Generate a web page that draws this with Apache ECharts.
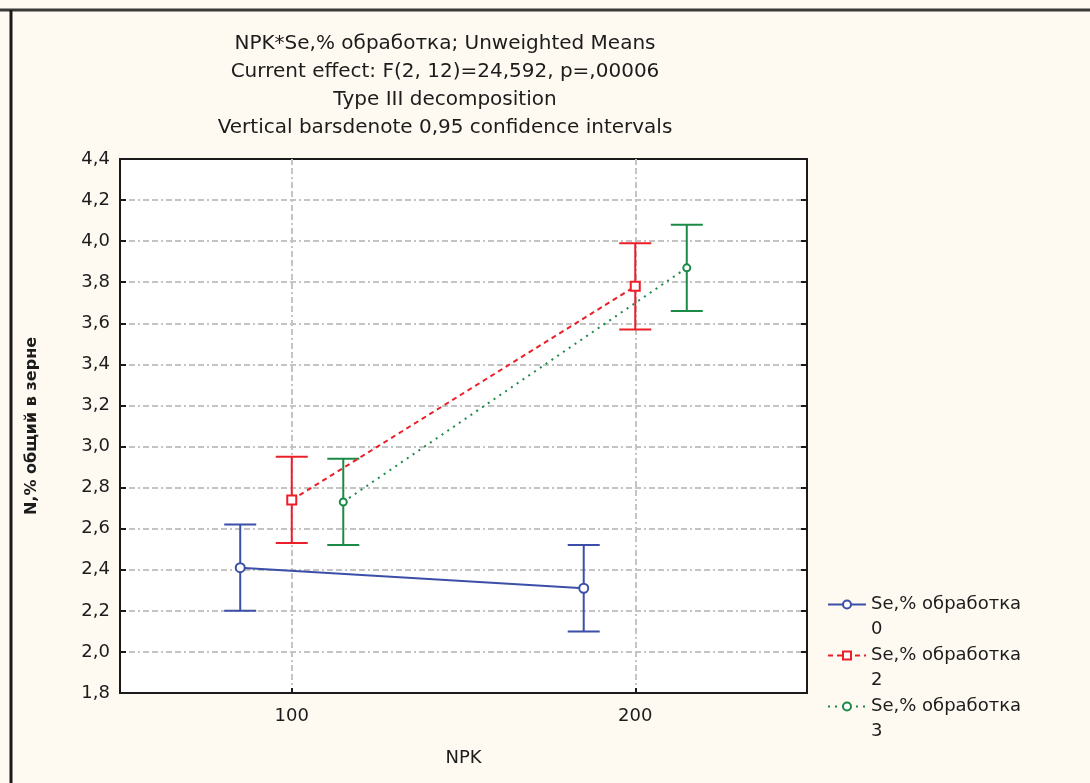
<!DOCTYPE html>
<html>
<head>
<meta charset="utf-8">
<script src="https://cdn.jsdelivr.net/npm/echarts@6/dist/echarts.min.js"></script>
<style>
  html, body { margin: 0; padding: 0; background: #fef9f1; }
  #chart { width: 1090px; height: 783px; }
</style>
</head>
<body>
<div id="chart"></div>
<script>
// NPK levels on the x axis
const npkLevels = [100, 200];
// Se treatment groups
const seGroups = ['0', '2', '3'];
// Unweighted means of total N, % in grain, per Se group at each NPK level
const meanSe0 = [2.41, 2.31];
const meanSe2 = [2.74, 3.78];
const meanSe3 = [2.73, 3.87];
// 0.95 confidence limits
const lowSe0 = [2.20, 2.10];
const highSe0 = [2.62, 2.52];
const lowSe2 = [2.53, 3.57];
const highSe2 = [2.95, 3.99];
const lowSe3 = [2.52, 3.66];
const highSe3 = [2.94, 4.08];
// y axis ticks
const yMin = 1.8, yMax = 4.4, yStep = 0.2;

const titleLines = [
  'NPK*Se,% обработка; Unweighted Means',
  'Current effect: F(2, 12)=24,592, p=,00006',
  'Type III decomposition',
  'Vertical barsdenote 0,95 confidence intervals'
];

const FONT = 'DejaVu Sans';
const TEXT = '#1c1c1c';
const colors = ['#3b4fa8', '#ec1f28', '#1b8a46'];
const lineTypes = ['solid', [5, 4], [2, 5]];
const symbols = ['circle', 'rect', 'circle'];
const symbolSizes = [9, 9, 7];
// horizontal dodge of each group around its NPK level
const dodge = [-15, 0, 15];

const means = [meanSe0, meanSe2, meanSe3];
const lows = [lowSe0, lowSe2, lowSe3];
const highs = [highSe0, highSe2, highSe3];

const seriesName = g => 'Se,% обработка ' + g;

const series = [];
seGroups.forEach((g, i) => {
  series.push({
    name: seriesName(g),
    type: 'line',
    data: npkLevels.map((x, k) => [x + dodge[i], means[i][k]]),
    symbol: symbols[i],
    symbolSize: symbolSizes[i],
    showAllSymbol: true,
    lineStyle: { color: colors[i], width: 2, type: lineTypes[i] },
    itemStyle: { color: '#ffffff', borderColor: colors[i], borderWidth: 2 },
    z: 5
  });
  series.push({
    name: seriesName(g),
    type: 'custom',
    data: npkLevels.map((x, k) => [x + dodge[i], lows[i][k], highs[i][k]]),
    encode: { x: 0, y: [1, 2] },
    renderItem: (params, api) => {
      const lo = api.coord([api.value(0), api.value(1)]);
      const hi = api.coord([api.value(0), api.value(2)]);
      const cap = 16;
      const style = { stroke: colors[i], lineWidth: 2, fill: null };
      return {
        type: 'group',
        children: [
          { type: 'line', shape: { x1: lo[0], y1: lo[1], x2: hi[0], y2: hi[1] }, style },
          { type: 'line', shape: { x1: lo[0] - cap, y1: lo[1], x2: lo[0] + cap, y2: lo[1] }, style },
          { type: 'line', shape: { x1: hi[0] - cap, y1: hi[1], x2: hi[0] + cap, y2: hi[1] }, style }
        ]
      };
    },
    z: 4
  });
});

const dashDot = { color: '#c4c4c4', width: 2, type: [6, 3, 6, 3, 2, 3] };
const fmtComma = v => v.toFixed(1).replace('.', ',');

const chart = echarts.init(document.getElementById('chart'));
chart.setOption({
  backgroundColor: '#fef9f1',
  animation: false,
  title: {
    text: titleLines.join('\n'),
    left: 440,
    textAlign: 'center',
    top: 25,
    textStyle: { fontFamily: FONT, fontSize: 20, fontWeight: 'normal', color: TEXT, lineHeight: 28 }
  },
  graphic: [
    { type: 'line', shape: { x1: 0, y1: 10, x2: 1090, y2: 10 }, style: { stroke: '#3a3a3a', lineWidth: 3 } },
    { type: 'line', shape: { x1: 11, y1: 10, x2: 11, y2: 783 }, style: { stroke: '#1a1a1a', lineWidth: 3 } }
  ],
  grid: { left: 120, right: 283, top: 159, bottom: 90, show: true, backgroundColor: '#ffffff', borderColor: '#1a1a1a', borderWidth: 2 },
  legend: {
    left: 822,
    top: 562,
    orient: 'vertical',
    itemWidth: 38,
    itemHeight: 10,
    itemGap: -24,
    data: seGroups.map(seriesName),
    // blank first line keeps the icon level with the series name line
    formatter: name => '\n' + name.replace(' обработка ', ' обработка\n'),
    textStyle: { fontFamily: FONT, fontSize: 18, color: TEXT, lineHeight: 25 }
  },
  xAxis: {
    type: 'value',
    min: 50,
    max: 250,
    name: 'NPK',
    nameLocation: 'middle',
    nameGap: 56,
    nameTextStyle: { fontFamily: FONT, fontSize: 18, color: TEXT },
    axisLine: { show: true, lineStyle: { color: '#1a1a1a', width: 2 } },
    axisTick: { show: true, inside: true, length: 5, customValues: npkLevels, lineStyle: { color: '#1a1a1a', width: 2 } },
    axisLabel: { customValues: npkLevels, fontFamily: FONT, fontSize: 18, color: TEXT, margin: 14 },
    splitLine: { show: true, showMinLine: true, showMaxLine: true, lineStyle: dashDot }
  },
  yAxis: [{
    type: 'value',
    min: yMin,
    max: yMax,
    interval: yStep,
    name: 'N,% общий в зерне',
    nameLocation: 'middle',
    nameGap: 80,
    nameTextStyle: { fontFamily: FONT, fontSize: 16, fontWeight: 'bold', color: TEXT },
    axisLine: { show: true, lineStyle: { color: '#1a1a1a', width: 2 } },
    axisTick: { show: true, inside: true, length: 6, lineStyle: { color: '#1a1a1a', width: 2 } },
    axisLabel: { formatter: fmtComma, fontFamily: FONT, fontSize: 18, color: TEXT, margin: 10 },
    splitLine: { show: true, showMinLine: false, showMaxLine: false, lineStyle: dashDot }
  }, {
    type: 'value',
    position: 'right',
    min: yMin,
    max: yMax,
    interval: yStep,
    axisLine: { show: true, lineStyle: { color: '#1a1a1a', width: 2 } },
    axisTick: { show: true, inside: true, length: 6, lineStyle: { color: '#1a1a1a', width: 2 } },
    axisLabel: { show: false },
    splitLine: { show: false }
  }],
  series
});
</script>
</body>
</html>
